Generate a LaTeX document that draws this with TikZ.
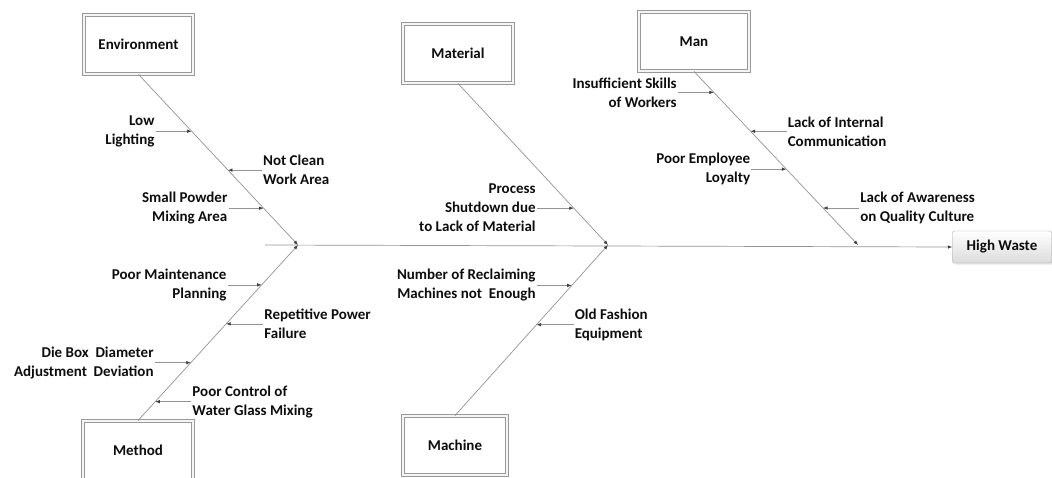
\documentclass[tikz,border=0pt]{standalone}
\usepackage{fontspec}
\setmainfont{Carlito}
\usetikzlibrary{positioning,arrows.meta,shadows}

\begin{document}
\begin{tikzpicture}[x=1pt,y=-1pt,
    font=\fontsize{15}{19}\selectfont\bfseries,
    every node/.append style={text=black!95},
    catbox/.style={draw=gray!80, double=gray!8, double distance=2.4pt, line width=0.8pt,
        fill=white, minimum height=59pt, drop shadow={shadow xshift=1.5pt, shadow yshift=-1.5pt, opacity=0.2}},
    effect/.style={draw=gray!70, rounded corners=2pt, top color=white, bottom color=gray!28,
        minimum width=99pt, minimum height=32pt, drop shadow={shadow xshift=1.5pt, shadow yshift=-1.5pt, opacity=0.2}},
    bone/.style={draw=gray!85, line width=0.7pt},
    tip/.style={-{Latex[length=4.5pt,width=3.6pt,color=black!75]}},
    causeL/.style={align=right, inner sep=1pt},
    causeR/.style={align=left, inner sep=1pt}]
  \useasboundingbox (0,0) rectangle (1052,477);

  % category boxes and effect
  \node[catbox, minimum width=109pt] (env) at (138.5,44.5) {Environment};
  \node[catbox, minimum width=110pt] (mat) at (458,53.5) {Material};
  \node[catbox, minimum width=110pt] (man) at (694,41.5) {Man};
  \node[catbox, minimum width=110pt] (met) at (138,450.5) {Method};
  \node[catbox, minimum width=104pt] (mac) at (455,445.5) {Machine};
  \node[effect] (hw) at (1002,247) {High Waste};

  % spine and joints
  \coordinate (tail) at (265,245);
  \coordinate (j1) at (298,245);
  \coordinate (j2) at (608,245);
  \coordinate (j3) at (858,245);
  \draw[bone,tip] (tail) -- (hw.west);

  % bones
  \draw[bone,tip] (env.south) -- coordinate[pos=0.333] (e1) coordinate[pos=0.561] (e2)
      coordinate[pos=0.784] (e3) (j1);
  \draw[bone,tip] (met.north) -- coordinate[pos=0.773] (m1) coordinate[pos=0.551] (m2)
      coordinate[pos=0.33] (m3) coordinate[pos=0.108] (m4) (j1);
  \draw[bone,tip] (mat.south) -- coordinate[pos=0.772] (p1) (j2);
  \draw[bone,tip] (mac.north) -- coordinate[pos=0.763] (c1) coordinate[pos=0.533] (c2) (j2);
  \draw[bone,tip] (man.south) -- coordinate[pos=0.121] (n1) coordinate[pos=0.345] (n2)
      coordinate[pos=0.563] (n3) coordinate[pos=0.787] (n4) (j3);

  % Environment causes
  \node[causeL, left=36pt of e1] (lowlight) {Low\\Lighting};
  \draw[bone,tip] (lowlight) -- (e1);
  \node[causeR, right=34pt of e2] (notclean) {Not Clean\\Work Area};
  \draw[bone,tip] (notclean) -- (e2);
  \node[causeL, left=35pt of e3] (powder) {Small Powder\\Mixing Area};
  \draw[bone,tip] (powder) -- (e3);

  % Method causes
  \node[causeL, left=34pt of m1] (maint) {Poor Maintenance\\Planning};
  \draw[bone,tip] (maint) -- (m1);
  \node[causeR, right=37pt of m2] (power) {Repetitive Power\\Failure};
  \draw[bone,tip] (power) -- (m2);
  \node[causeL, left=36pt of m3] (diebox) {Die Box\ \ Diameter\\Adjustment\ \ Deviation};
  \draw[bone,tip] (diebox) -- (m3);
  \node[causeR, right=36pt of m4] (glass) {Poor Control of\\Water Glass Mixing};
  \draw[bone,tip] (glass) -- (m4);

  % Material causes
  \node[causeL, left=37pt of p1] (shutdown) {Process\\Shutdown due\\to Lack of Material};
  \draw[bone,tip] (shutdown) -- (p1);

  % Machine causes
  \node[causeL, left=35pt of c1] (reclaim) {Number of Reclaiming\\Machines not\ \ Enough};
  \draw[bone,tip] (reclaim) -- (c1);
  \node[causeR, right=37pt of c2] (oldfash) {Old Fashion\\Equipment};
  \draw[bone,tip] (oldfash) -- (c2);

  % Man causes
  \node[causeL, left=36pt of n1] (skills) {Insufficient Skills\\of Workers};
  \draw[bone,tip] (skills) -- (n1);
  \node[causeR, right=36pt of n2] (intcomm) {Lack of Internal\\Communication};
  \draw[bone,tip] (intcomm) -- (n2);
  \node[causeL, left=35pt of n3] (loyalty) {Poor Employee\\Loyalty};
  \draw[bone,tip] (loyalty) -- (n3);
  \node[causeR, right=36pt of n4] (aware) {Lack of Awareness\\on Quality Culture};
  \draw[bone,tip] (aware) -- (n4);
\end{tikzpicture}
\end{document}
